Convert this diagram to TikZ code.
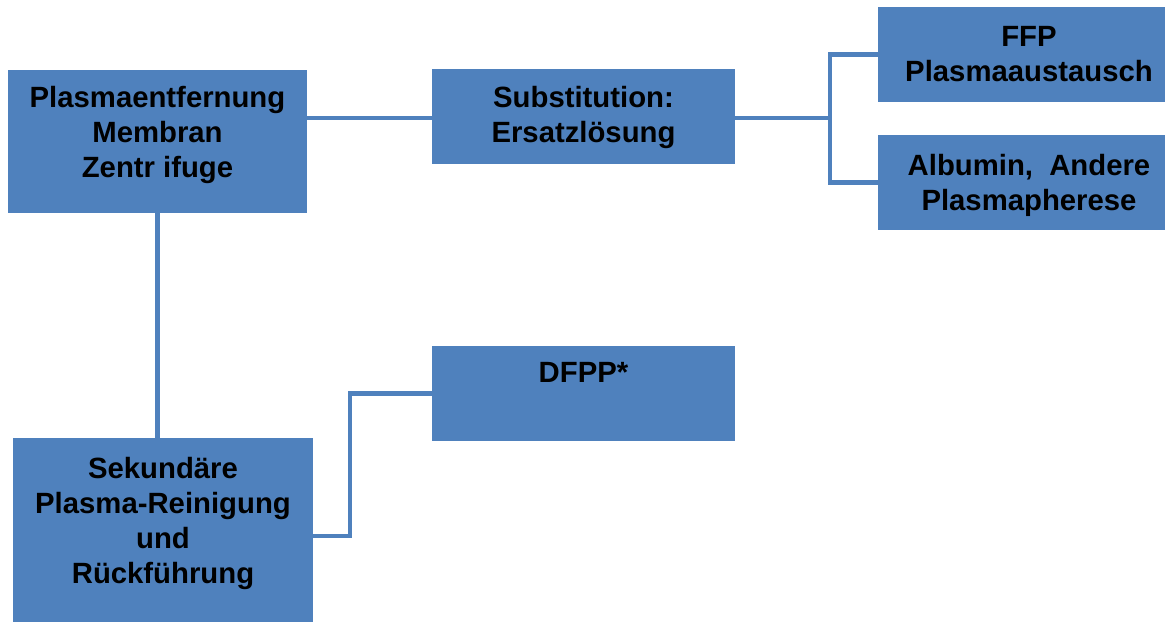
\documentclass[tikz,border=0pt]{standalone}
\usepackage{fontspec}
\setmainfont{Liberation Sans}
\definecolor{boxblue}{HTML}{4F81BD}
\begin{document}
\begin{tikzpicture}[x=1pt,y=-1pt,
  bluebox/.style={draw=none,fill=boxblue,rectangle,inner sep=0pt},
  boxtext/.style={anchor=north,align=center,inner sep=0pt,
    font=\fontsize{29.3}{35}\selectfont\bfseries},
  conn/.style={draw=boxblue,line width=4.3pt}]
\useasboundingbox (0,0) rectangle (1165,622);
% boxes
\node[bluebox,minimum width=299,minimum height=143] (A) at (157.5,141.5) {};
\node[bluebox,minimum width=303,minimum height=95] (B) at (583.5,116.5) {};
\node[bluebox,minimum width=287,minimum height=95] (C) at (1021.5,54.5) {};
\node[bluebox,minimum width=287,minimum height=95] (D) at (1021.5,182.5) {};
\node[bluebox,minimum width=303,minimum height=95] (E) at (583.5,393.5) {};
\node[bluebox,minimum width=300,minimum height=184] (F) at (163,530) {};
% texts
\node[boxtext] (tA) at (157.5,86) {Plasmaentfernung\\Membran\\Zentr ifuge};
\node[boxtext] (tB) at (583.5,86) {Substitution:\\Ersatzlösung};
\node[boxtext] (tC) at (1029,26) {FFP\\Plasmaaustausch};
\node[boxtext] (tD) at (1029,154) {Albumin,\ \ Andere\\Plasmapherese};
\node[boxtext] (tE) at (583.5,362) {DFPP*};
\node[boxtext] (tF) at (163,457) {Sekundäre\\Plasma-Reinigung\\und\\Rückführung};
% connectors
\coordinate (br) at (830,118);
\coordinate (fe) at (350,536);
\draw[conn] (A.east |- br) -- (B.west |- br);
\draw[conn] (B.east |- br) -- (br);
\draw[conn] (C.west) -| (br) |- (D.west);
\draw[conn] (A.south) -- (A.south |- F.north);
\draw[conn] (F.east |- fe) -- (fe) |- (E.west);
\end{tikzpicture}
\end{document}
